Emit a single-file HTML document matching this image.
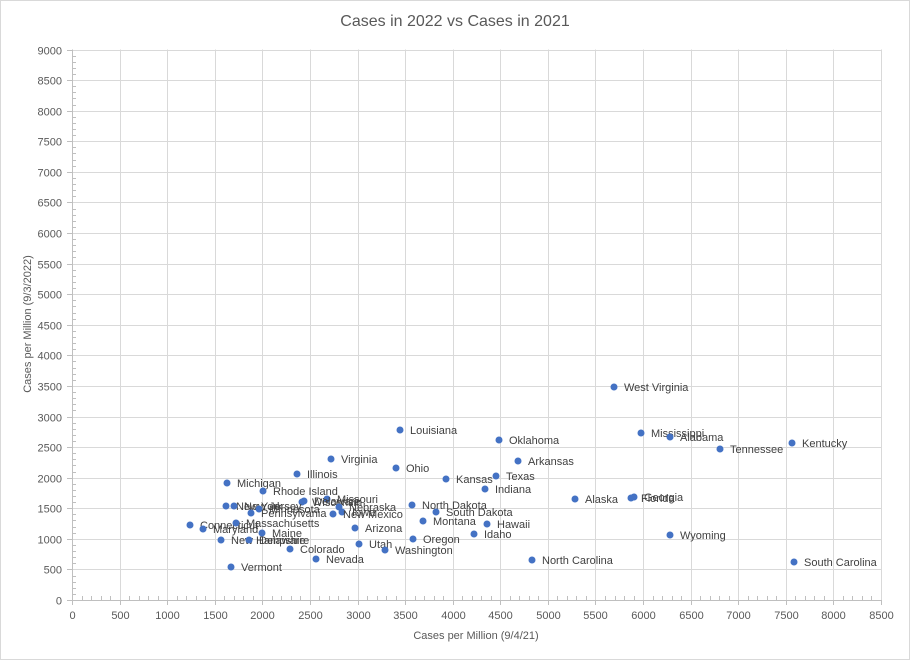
<!DOCTYPE html>
<html><head><meta charset="utf-8"><style>
html,body{margin:0;padding:0;background:#fff}
svg{display:block;font-family:"Liberation Sans",sans-serif}
</style></head><body>
<svg width="910" height="660" viewBox="0 0 910 660" xmlns="http://www.w3.org/2000/svg">
<rect x="0.5" y="0.5" width="909" height="659" fill="#fff" stroke="#d9d9d9"/>
<text x="455" y="26" text-anchor="middle" font-size="16" fill="#595959">Cases in 2022 vs Cases in 2021</text>
<g id="grid" stroke="#d9d9d9" stroke-width="1"></g>
<g id="ticks" stroke="#bfbfbf" stroke-width="1"></g>
<g id="lbl" font-size="11" fill="#595959"></g>
<text x="476" y="639" text-anchor="middle" font-size="11" fill="#595959">Cases per Million (9/4/21)</text>
<text transform="translate(31,324) rotate(-90)" text-anchor="middle" font-size="11" fill="#595959">Cases per Million (9/3/2022)</text>
<g id="pts"></g>
</svg>
<script>
var ns="http://www.w3.org/2000/svg";
function el(p,t,a,txt){var e=document.createElementNS(ns,t);for(var k in a)e.setAttribute(k,a[k]);if(txt)e.textContent=txt;document.getElementById(p).appendChild(e);}
var x0=72,x1=881,y0=600,y1=49.5;
for(var v=0;v<=8500;v+=500){var x=x0+(x1-x0)*v/8500;x=Math.round(x)+0.5;
 if(v>0)el("grid","line",{x1:x,x2:x,y1:y1,y2:y0});
 el("ticks","line",{x1:x,x2:x,y1:y0,y2:y0+5});
 el("lbl","text",{x:x,y:619,"text-anchor":"middle"},""+v);}
for(var v=0;v<=8500;v+=100){if(v%500){var x=Math.round(x0+(x1-x0)*v/8500)+0.5;el("ticks","line",{x1:x,x2:x,y1:y0,y2:y0-4});}}
for(var v=0;v<=9000;v+=500){var y=Math.round(y0-(y0-y1)*v/9000)+0.5;
 if(v>0)el("grid","line",{x1:x0,x2:x1,y1:y,y2:y});
 el("ticks","line",{x1:x0-5,x2:x0,y1:y,y2:y});
 el("lbl","text",{x:62,y:y+4,"text-anchor":"end"},""+v);}
for(var v=0;v<=9000;v+=100){if(v%500){var y=Math.round(y0-(y0-y1)*v/9000)+0.5;el("ticks","line",{x1:x0,x2:x0+4,y1:y,y2:y});}}
el("ticks","line",{x1:x0+0.5,x2:x0+0.5,y1:y1,y2:y0});
el("ticks","line",{x1:x0,x2:x1,y1:y0+0.5,y2:y0+0.5});
var P=[[614,387,"West Virginia"],[400,430,"Louisiana"],[499,440,"Oklahoma"],[641,433,"Mississippi"],[670,437,"Alabama"],[720,449,"Tennessee"],[792,443,"Kentucky"],[331,459,"Virginia"],[396,468,"Ohio"],[518,461,"Arkansas"],[297,474,"Illinois"],[446,479,"Kansas"],[496,476,"Texas"],[485,489,"Indiana"],[227,483,"Michigan"],[263,491,"Rhode Island"],[575,499,"Alaska"],[631,498,"Florida"],[634,497,"Georgia"],[327,499,"Missouri"],[302,502,"Wisconsin"],[304,501,"Delaware"],[339,507,"Nebraska"],[342,512,"Iowa"],[333,514,"New Mexico"],[226,506,"New York"],[234,506,"New Jersey"],[259,509,"Minnesota"],[251,513,"Pennsylvania"],[190,525,"Connecticut"],[203,529,"Maryland"],[236,523,"Massachusetts"],[262,533,"Maine"],[221,540,"New Hampshire"],[249,540,"Delaware"],[290,549,"Colorado"],[316,559,"Nevada"],[231,567,"Vermont"],[355,528,"Arizona"],[359,544,"Utah"],[385,550,"Washington"],[412,505,"North Dakota"],[436,512,"South Dakota"],[423,521,"Montana"],[413,539,"Oregon"],[474,534,"Idaho"],[487,524,"Hawaii"],[532,560,"North Carolina"],[670,535,"Wyoming"],[794,562,"South Carolina"]];
P.forEach(function(p){el("pts","circle",{cx:p[0],cy:p[1],r:3.5,fill:"#4472c4"});
 el("pts","text",{x:p[0]+10,y:p[1]+4,"font-size":"11",fill:"#404040"},p[2]);});
</script>
</body></html>
